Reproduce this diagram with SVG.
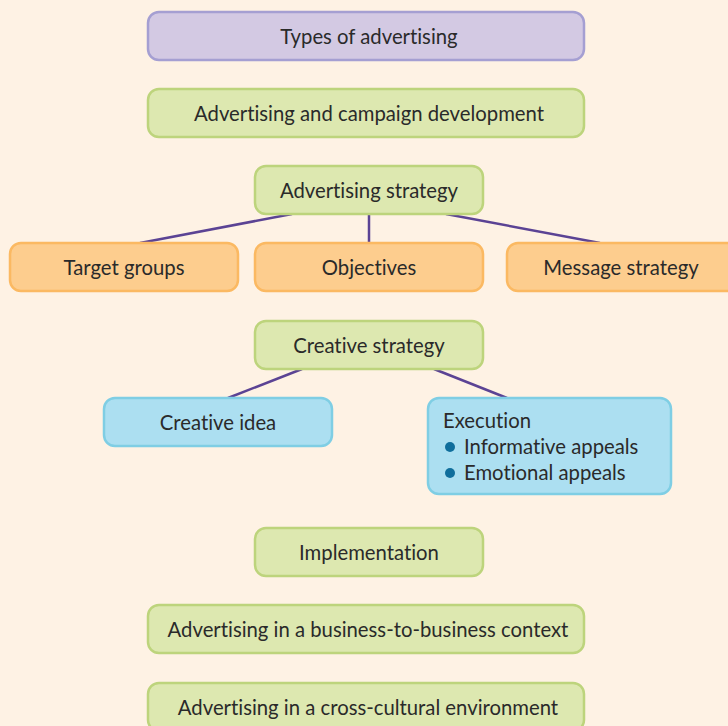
<svg xmlns="http://www.w3.org/2000/svg" width="728" height="726" viewBox="0 0 728 726">
<style>
.t{font-family:Lato,"Open Sans","Liberation Sans",sans-serif;font-size:20.3px;fill:#2a2a2a;text-anchor:middle;font-variant-ligatures:none;font-feature-settings:"liga" 0}
.l{text-anchor:start}
.p{fill:#d3c9e3;stroke:#a59fd2;stroke-width:2.5}
.g{fill:#dde8b0;stroke:#bdd47c;stroke-width:2.5}
.o{fill:#fdcd8e;stroke:#fbb962;stroke-width:2.5}
.b{fill:#acdff1;stroke:#7fcee4;stroke-width:2.5}
.c{stroke:#5b4394;stroke-width:2.5;fill:none}
</style>
<rect width="728" height="726" fill="#fef2e4"/>
<g id="connectors">
<line class="c" x1="292" y1="214" x2="140" y2="243"/>
<line class="c" x1="369" y1="214" x2="369" y2="243"/>
<line class="c" x1="446" y1="214" x2="600" y2="243"/>
<line class="c" x1="302" y1="369" x2="228" y2="398"/>
<line class="c" x1="434" y1="369" x2="507" y2="398"/>
</g>
<g id="types"><rect class="p" x="148" y="12" width="436" height="48" rx="11"/><text class="t" x="369" y="44">Types of advertising</text></g>
<g id="campaign"><rect class="g" x="148" y="89" width="436" height="48" rx="11"/><text class="t" x="369" y="121">Advertising and campaign development</text></g>
<g id="adstrategy"><rect class="g" x="255" y="166" width="228" height="48" rx="11"/><text class="t" x="369" y="198">Advertising strategy</text></g>
<g id="target"><rect class="o" x="10" y="243" width="228" height="48" rx="11"/><text class="t" x="124" y="275">Target groups</text></g>
<g id="objectives"><rect class="o" x="255" y="243" width="228" height="48" rx="11"/><text class="t" x="369" y="275">Objectives</text></g>
<g id="message"><rect class="o" x="507" y="243" width="232" height="48" rx="11"/><text class="t" x="621" y="275">Message strategy</text></g>
<g id="creative"><rect class="g" x="255" y="321" width="228" height="48" rx="11"/><text class="t" x="369" y="353">Creative strategy</text></g>
<g id="idea"><rect class="b" x="104" y="398" width="228" height="48" rx="11"/><text class="t" x="218" y="430">Creative idea</text></g>
<g id="execution"><rect class="b" x="428" y="398" width="243" height="96" rx="11"/>
<text class="t l" x="443" y="428">Execution</text>
<circle cx="450" cy="447" r="5" fill="#0f6e9c"/><text class="t l" x="464" y="454">Informative appeals</text>
<circle cx="450" cy="473" r="5" fill="#0f6e9c"/><text class="t l" x="464" y="480">Emotional appeals</text>
</g>
<g id="implementation"><rect class="g" x="255" y="528" width="228" height="48" rx="11"/><text class="t" x="369" y="560">Implementation</text></g>
<g id="b2b"><rect class="g" x="148" y="605" width="436" height="48" rx="11"/><text class="t" x="368" y="637">Advertising in a business-to-business context</text></g>
<g id="cross"><rect class="g" x="148" y="683" width="436" height="48" rx="11"/><text class="t" x="368" y="715">Advertising in a cross-cultural environment</text></g>
</svg>
